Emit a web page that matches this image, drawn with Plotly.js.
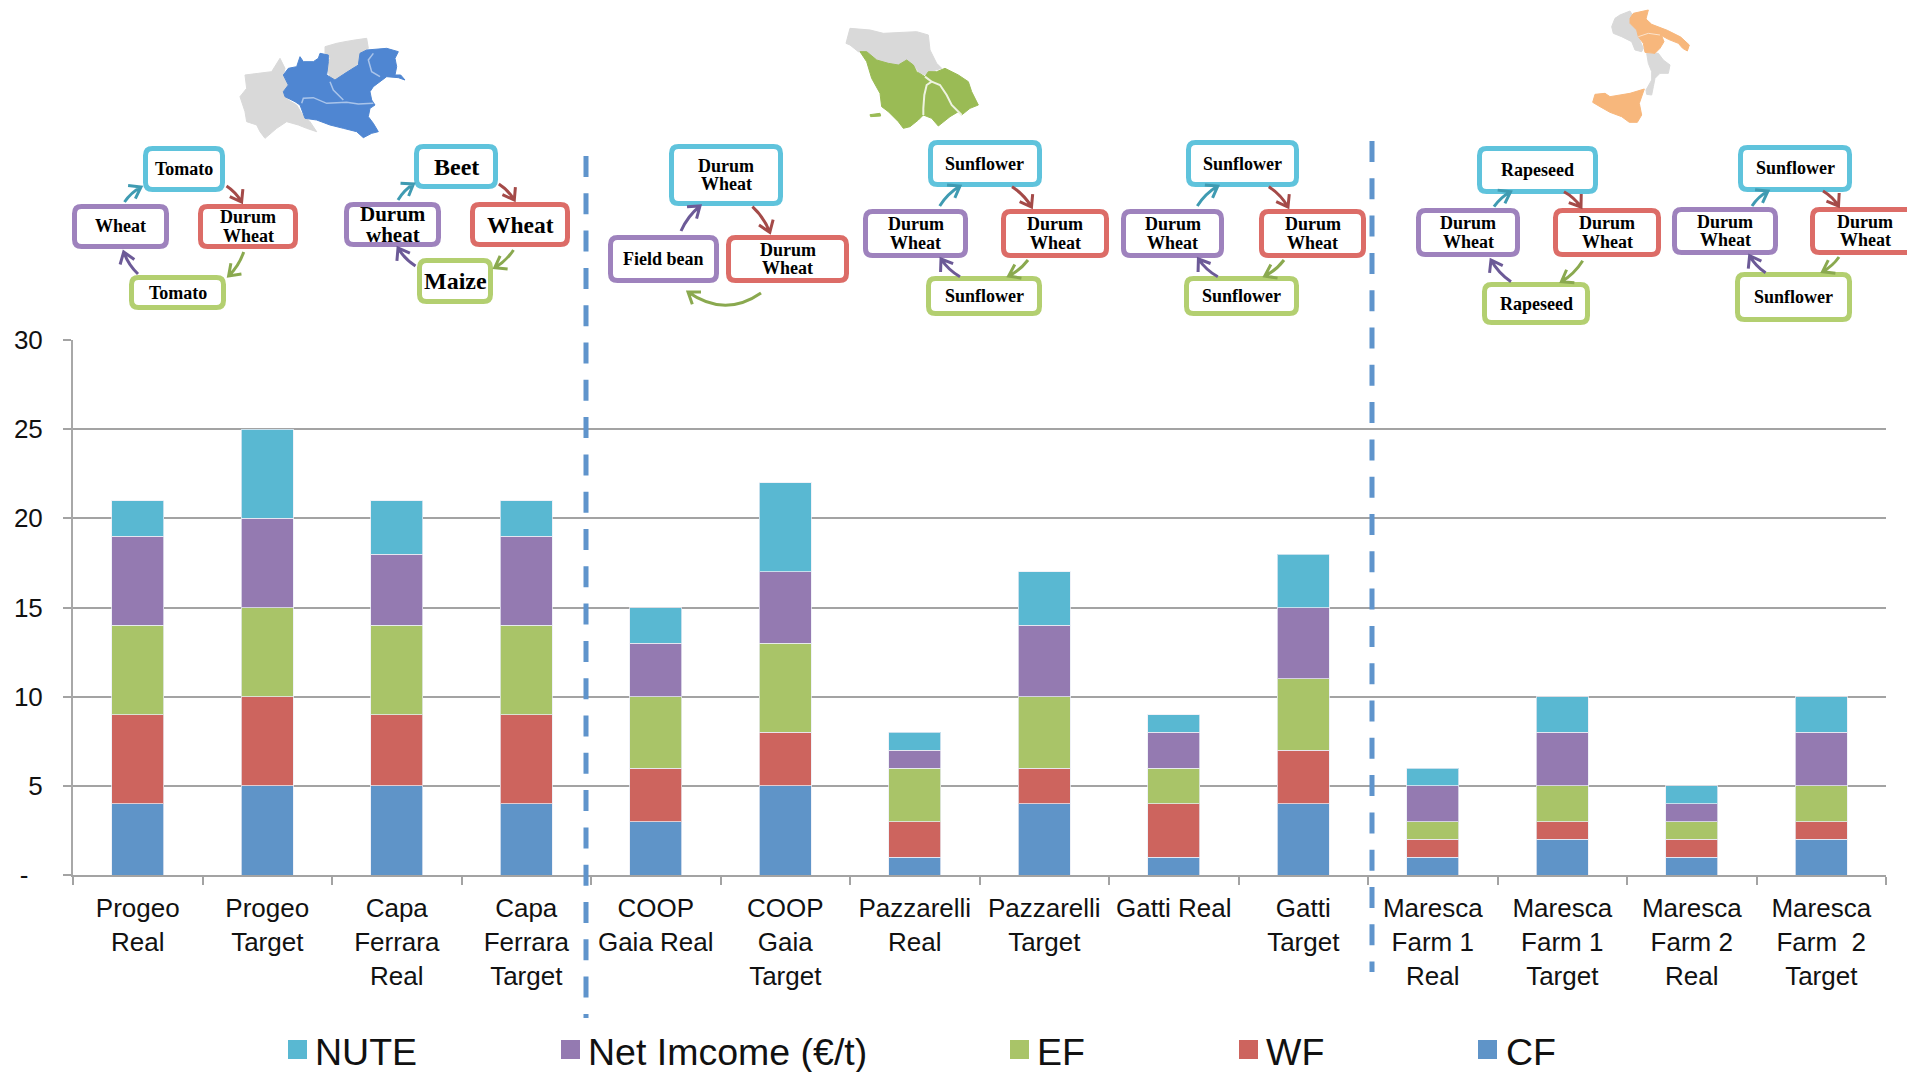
<!DOCTYPE html>
<html>
<head>
<meta charset="utf-8">
<title>Sustainability indicators by farm</title>
<script src="https://cdn.plot.ly/plotly-3.0.1.min.js"></script>
<style>html,body{margin:0;padding:0;background:#fff}</style>
</head>
<body>
<div id="chart"></div>
<script>
// ---- Chart data ----
const farms = [
  "Progeo<br>Real", "Progeo<br>Target", "Capa<br>Ferrara<br>Real", "Capa<br>Ferrara<br>Target",
  "COOP<br>Gaia Real", "COOP<br>Gaia<br>Target", "Pazzarelli<br>Real", "Pazzarelli<br>Target",
  "Gatti Real", "Gatti<br>Target", "Maresca<br>Farm 1<br>Real", "Maresca<br>Farm 1<br>Target",
  "Maresca<br>Farm 2<br>Real", "Maresca<br>Farm\u00a0 2<br>Target"
];
const cf   = [4, 5, 5, 4, 3, 5, 1, 4, 1, 4, 1, 2, 1, 2];
const wf   = [5, 5, 4, 5, 3, 3, 2, 2, 3, 3, 1, 1, 1, 1];
const ef   = [5, 5, 5, 5, 4, 5, 3, 4, 2, 4, 1, 2, 1, 2];
const net  = [5, 5, 4, 5, 3, 4, 1, 4, 2, 4, 2, 3, 1, 3];
const nute = [2, 5, 3, 2, 2, 5, 1, 3, 1, 3, 1, 2, 1, 2];
const yTickValues = [0, 5, 10, 15, 20, 25, 30];
const yTickLabels = ["-\u00a0\u00a0", "5", "10", "15", "20", "25", "30"];
const seriesNames = ["CF", "WF", "EF", "Net Imcome (€/t)", "NUTE"];

// Crop rotation per farm, in box order: top, right, bottom, left (COOP Gaia has three crops)
const rotations = [
  [["Tomato"], ["Durum", "Wheat"], ["Tomato"], ["Wheat"]],
  [["Beet"], ["Wheat"], ["Maize"], ["Durum", "wheat"]],
  [["Durum", "Wheat"], ["Durum", "Wheat"], null, ["Field bean"]],
  [["Sunflower"], ["Durum", "Wheat"], ["Sunflower"], ["Durum", "Wheat"]],
  [["Sunflower"], ["Durum", "Wheat"], ["Sunflower"], ["Durum", "Wheat"]],
  [["Rapeseed"], ["Durum", "Wheat"], ["Rapeseed"], ["Durum", "Wheat"]],
  [["Sunflower"], ["Durum", "Wheat"], ["Sunflower"], ["Durum", "Wheat"]]
];

// ---- Page geometry and palette ----
const W = 1907, H = 1072;
const PLOT = {l: 73, r: 1886, t: 340, b: 875};
const fx = px => (px - PLOT.l) / (PLOT.r - PLOT.l);
const fy = py => (PLOT.b - py) / (PLOT.b - PLOT.t);
const pt = (x, y) => fx(x).toFixed(5) + "," + fy(y).toFixed(5);

const BAR = {CF: "#5f94c8", WF: "#cd645e", EF: "#a9c468", NET: "#947ab1", NUTE: "#59b8d2"};
const BOX = ["#5fc3dc", "#dc6c67", "#b3cf70", "#9e82bd"];   // top, right, bottom, left
const ARROW = {teal: "#3f9bb2", red: "#a44a48", olive: "#8aa94f", violet: "#6c5a97"};
const GREY = "#d9d9d9";

const shapes = [];
const annotations = [];

// ---- Stacked bars ----
const stack = [[cf, BAR.CF], [wf, BAR.WF], [ef, BAR.EF], [net, BAR.NET], [nute, BAR.NUTE]];
const traces = stack.map(([values, color], i) => ({
  type: "bar",
  name: seriesNames[i],
  x: farms,
  y: values,
  marker: {color: color, line: {color: "rgba(235,238,245,0.75)", width: 1}},
  hoverinfo: "name+y"
}));

// ---- Legend row ----
const legendRow = [
  {name: seriesNames[4], color: BAR.NUTE, sx: 288, tx: 316},
  {name: seriesNames[3], color: BAR.NET,  sx: 561, tx: 589},
  {name: seriesNames[2], color: BAR.EF,   sx: 1010, tx: 1038},
  {name: seriesNames[1], color: BAR.WF,   sx: 1239, tx: 1267},
  {name: seriesNames[0], color: BAR.CF,   sx: 1478, tx: 1507}
];
legendRow.forEach(e => {
  shapes.push({type: "rect", xref: "paper", yref: "paper", x0: fx(e.sx), x1: fx(e.sx + 19),
    y0: fy(1059), y1: fy(1040), fillcolor: e.color, line: {width: 0}});
  annotations.push({xref: "paper", yref: "paper", x: fx(e.tx), y: fy(1052), xanchor: "left", yanchor: "middle",
    showarrow: false, text: e.name, xshift: -3,
    font: {family: "Liberation Sans", size: 37.5, color: "#111"}});
});

// ---- Dashed separators between the three regions ----
[[586, 156, 1018], [1372, 141, 972]].forEach(([x, y0, y1]) => {
  shapes.push({type: "line", xref: "paper", yref: "paper", x0: fx(x), x1: fx(x), y0: fy(y0), y1: fy(y1),
    line: {color: "#5f94cc", width: 5, dash: "21px,16.3px"}});
});

// ---- Rotation diagrams: [x0, x1, y0, y1] of each box, same order as the crop lists ----
const frames = [
  [[143, 225, 146, 192], [198, 298, 204, 249], [129, 226, 275, 310], [72, 169, 204, 249]],
  [[414, 498, 144, 189], [470, 570, 202, 247], [417, 493, 258, 304], [344, 441, 202, 247]],
  [[669, 783, 144, 206], [726, 849, 235, 283], null, [608, 719, 235, 283]],
  [[928, 1042, 140, 187], [1001, 1109, 209, 258], [926, 1042, 276, 316], [863, 968, 209, 258]],
  [[1186, 1299, 140, 187], [1259, 1366, 209, 258], [1184, 1299, 276, 316], [1121, 1224, 209, 258]],
  [[1477, 1598, 146, 194], [1553, 1661, 208, 257], [1482, 1590, 282, 325], [1416, 1520, 208, 257]],
  [[1738, 1852, 145, 192], [1810, 1920, 207, 255], [1735, 1852, 272, 322], [1672, 1778, 207, 255]]
];
const labelSizes = [
  [18, 18, 18, 18], [24, 23.5, 24, 21], [18, 18, 18, 18], [18, 18, 18, 18],
  [18, 18, 18, 18], [18, 18, 18, 18], [18, 18, 18, 18]
];

function roundedBox(x0, x1, y0, y1, r) {
  return "M" + pt(x0 + r, y0) + " L" + pt(x1 - r, y0) + " Q" + pt(x1, y0) + " " + pt(x1, y0 + r) +
    " L" + pt(x1, y1 - r) + " Q" + pt(x1, y1) + " " + pt(x1 - r, y1) +
    " L" + pt(x0 + r, y1) + " Q" + pt(x0, y1) + " " + pt(x0, y1 - r) +
    " L" + pt(x0, y0 + r) + " Q" + pt(x0, y0) + " " + pt(x0 + r, y0) + " Z";
}

frames.forEach((group, g) => group.forEach((box, b) => {
  if (!box) return;
  const [x0, x1, y0, y1] = box;
  const w = 5;
  shapes.push({type: "path", xref: "paper", yref: "paper",
    path: roundedBox(x0 + w / 2, x1 - w / 2, y0 + w / 2, y1 - w / 2, 7),
    fillcolor: "#fff", line: {color: BOX[b], width: w}});
  const lines = rotations[g][b], size = labelSizes[g][b], pitch = size * 1.03;
  lines.forEach((line, i) => {
    annotations.push({xref: "paper", yref: "paper", showarrow: false,
      x: fx((x0 + x1) / 2), y: fy((y0 + y1) / 2 + (i - (lines.length - 1) / 2) * pitch),
      xanchor: "center", yanchor: "middle", text: "<b>" + line + "</b>",
      font: {family: "Liberation Serif", size: size, color: "#000"}});
  });
}));

// ---- Rotation arrows: start, end, colour, optional bend ----
function arrow(x0, y0, x1, y1, color, cx, cy) {
  const dx = x1 - x0, dy = y1 - y0;
  if (cx === undefined) { cx = (x0 + x1) / 2 + dy * 0.12; cy = (y0 + y1) / 2 - dx * 0.12; }
  const ang = Math.atan2(y1 - cy, x1 - cx), L = 13, s = 0.62;
  const h1 = pt(x1 - L * Math.cos(ang - s), y1 - L * Math.sin(ang - s));
  const h2 = pt(x1 - L * Math.cos(ang + s), y1 - L * Math.sin(ang + s));
  shapes.push({type: "path", xref: "paper", yref: "paper",
    path: "M" + pt(x0, y0) + " Q" + pt(cx, cy) + " " + pt(x1, y1) + " M" + h1 + " L" + pt(x1, y1) + " L" + h2,
    fillcolor: "rgba(0,0,0,0)", line: {color: color, width: 3}});
}
[
  [124.5, 202, 141, 187, ARROW.teal], [226.5, 186, 241.6, 202, ARROW.red],
  [243.7, 252, 228.6, 276, ARROW.olive], [138, 274, 123.7, 252, ARROW.violet],
  [398, 200, 413.5, 184, ARROW.teal], [498.8, 184, 514.3, 200, ARROW.red],
  [513.5, 250, 494.7, 267.7, ARROW.olive], [415.5, 266, 398, 248, ARROW.violet],
  [681, 231, 700, 206, ARROW.violet], [752.4, 206.7, 769.8, 232.3, ARROW.red],
  [761, 293, 688, 292, ARROW.olive, 725, 318],
  [939.7, 206, 960, 186, ARROW.teal], [1012, 186.7, 1031.5, 207, ARROW.red],
  [1028, 260, 1008.6, 276, ARROW.olive], [960, 276.7, 941, 259, ARROW.violet],
  [1197.3, 206, 1217.8, 186, ARROW.teal], [1268.8, 186.7, 1288, 207, ARROW.red],
  [1284, 260, 1264.7, 276, ARROW.olive], [1217.8, 276.7, 1198.4, 259, ARROW.violet],
  [1494, 206.7, 1510.6, 191.7, ARROW.teal], [1564, 191.7, 1581, 207, ARROW.red],
  [1582.7, 260.7, 1561.4, 281.7, ARROW.olive], [1511, 281.7, 1491, 260, ARROW.violet],
  [1752, 206, 1768, 191, ARROW.teal], [1823, 191, 1838.5, 206, ARROW.red],
  [1839, 257, 1822.5, 271.7, ARROW.olive], [1765.6, 272.7, 1749.6, 255.7, ARROW.violet]
].forEach(a => arrow(...a));

// ---- Region maps: outlines on a third-of-a-pixel grid from each map's origin ----
function region(ox, oy, outline, fill) {
  const p = outline.map(([x, y]) => pt(ox + x / 3, oy + y / 3));
  shapes.push({type: "path", xref: "paper", yref: "paper", fillcolor: fill,
    path: "M" + p[0] + " " + p.slice(1).map(q => "L" + q).join(" ") + " Z",
    line: {color: fill, width: 1}});
}
function borderLine(ox, oy, outline, color, width) {
  const p = outline.map(([x, y]) => pt(ox + x / 3, oy + y / 3));
  shapes.push({type: "path", xref: "paper", yref: "paper", fillcolor: "rgba(0,0,0,0)",
    path: "M" + p[0] + " " + p.slice(1).map(q => "L" + q).join(" "),
    line: {color: color, width: width}});
}

// Northern Italy
const NORTH = [230, 25];
const PALE_BLUE = "#a9c4ea";
region(...NORTH, [[150,100],[165,130],[160,150],[175,185],[160,205],[175,225],[200,240],[215,265],[240,290],[260,320],[230,310],[205,300],[170,290],[140,310],[105,340],[90,320],[80,300],[50,290],[45,260],[30,215],[50,190],[45,150],[85,145],[125,140]], GREY);
region(...NORTH, [[285,65],[320,55],[345,50],[375,45],[410,40],[415,70],[390,85],[385,115],[370,130],[340,145],[320,165],[300,155],[290,130],[300,100],[285,85]], GREY);
region(...NORTH, [[210,95],[220,110],[250,110],[265,100],[270,85],[295,90],[295,110],[290,150],[315,165],[345,145],[385,120],[390,85],[410,75],[470,70],[505,80],[495,100],[500,125],[495,150],[512,150],[525,165],[505,158],[470,155],[430,185],[420,200],[425,225],[435,240],[420,250],[415,275],[430,295],[445,320],[425,325],[400,338],[380,320],[340,310],[300,300],[260,285],[225,280],[210,240],[195,230],[165,215],[160,200],[175,180],[160,150],[175,130],[200,125]], "#4f86d2");
borderLine(...NORTH, [[215,235],[220,220],[250,218],[290,235],[350,232],[385,237],[430,235]], PALE_BLUE, 1.5);
borderLine(...NORTH, [[300,170],[310,195],[340,225]], PALE_BLUE, 1.5);
borderLine(...NORTH, [[430,85],[415,105],[425,140],[450,155]], PALE_BLUE, 1.5);

// Central Italy
const CENTRE = [830, 20];
const PALE_GREEN = "#eef3e0";
region(...CENTRE, [[60,25],[120,30],[160,40],[260,35],[295,45],[300,90],[320,130],[335,145],[300,155],[290,165],[270,160],[250,135],[230,125],[205,135],[175,130],[140,120],[110,100],[85,95],[60,75],[48,70]], GREY);
region(...CENTRE, [[90,95],[110,95],[140,120],[175,130],[205,135],[230,120],[250,135],[260,155],[285,170],[295,155],[320,155],[345,145],[385,165],[415,185],[425,215],[445,255],[420,265],[395,285],[385,275],[360,290],[325,318],[305,295],[280,285],[265,300],[240,320],[220,325],[205,305],[175,275],[155,260],[150,220],[125,175],[110,125]], "#9abb55");
borderLine(...CENTRE, [[285,170],[305,185],[290,195],[283,225],[280,265],[280,285]], PALE_GREEN, 2);
borderLine(...CENTRE, [[305,185],[330,195],[350,225],[365,255],[395,285]], PALE_GREEN, 2);
region(...CENTRE, [[120,284],[150,280],[152,288],[122,290]], "#9abb55");

// Southern Italy and Sicily
const SOUTH = [1580, 5];
region(...SOUTH, [[105,40],[120,30],[150,18],[160,35],[150,55],[170,75],[175,95],[190,130],[185,140],[165,135],[155,110],[125,95],[100,85],[95,65]], GREY);
region(...SOUTH, [[200,145],[235,145],[250,165],[270,180],[265,205],[240,205],[225,220],[220,245],[215,270],[200,268],[198,255],[215,225],[215,200],[205,175]], GREY);
region(...SOUTH, [[150,40],[160,25],[205,15],[198,42],[215,58],[262,76],[302,96],[328,120],[322,138],[308,130],[295,115],[265,103],[245,92],[252,110],[240,130],[225,145],[195,142],[190,115],[175,95],[170,75],[150,55]], "#f7b77c");
region(...SOUTH, [[45,268],[75,265],[90,275],[150,265],[193,252],[178,295],[185,330],[172,352],[148,352],[125,335],[90,322],[60,305],[38,292]], "#f7b77c");
borderLine(...SOUTH, [[175,95],[205,85],[240,90]], "#fbe3cc", 1);

// ---- Layout ----
const layout = {
  width: W, height: H, autosize: false,
  paper_bgcolor: "#fff", plot_bgcolor: "#fff",
  margin: {l: PLOT.l, r: W - PLOT.r, t: PLOT.t, b: H - PLOT.b, pad: 0},
  barmode: "stack", bargap: 0.6,
  showlegend: false,
  xaxis: {
    type: "category", range: [-0.5, 13.5], tickson: "boundaries",
    ticks: "outside", ticklen: 8, tickwidth: 2, tickcolor: "#a3a3a3",
    showline: true, linecolor: "#a3a3a3", linewidth: 2, showgrid: false,
    tickangle: 0, ticklabelstandoff: 9,
    tickfont: {family: "Liberation Sans", size: 26, color: "#111"}
  },
  yaxis: {
    range: [0, 30], tickmode: "array", tickvals: yTickValues, ticktext: yTickLabels,
    ticks: "outside", ticklen: 8, tickwidth: 2, tickcolor: "#a3a3a3",
    showline: true, linecolor: "#a8a8a8", linewidth: 2,
    showgrid: true, gridcolor: "#a3a3a3", gridwidth: 2, zeroline: false,
    ticklabelstandoff: 15,
    tickfont: {family: "Liberation Sans", size: 26, color: "#111"}
  },
  shapes: shapes,
  annotations: annotations
};

Plotly.newPlot("chart", traces, layout, {displayModeBar: false, staticPlot: true});
</script>
</body>
</html>
